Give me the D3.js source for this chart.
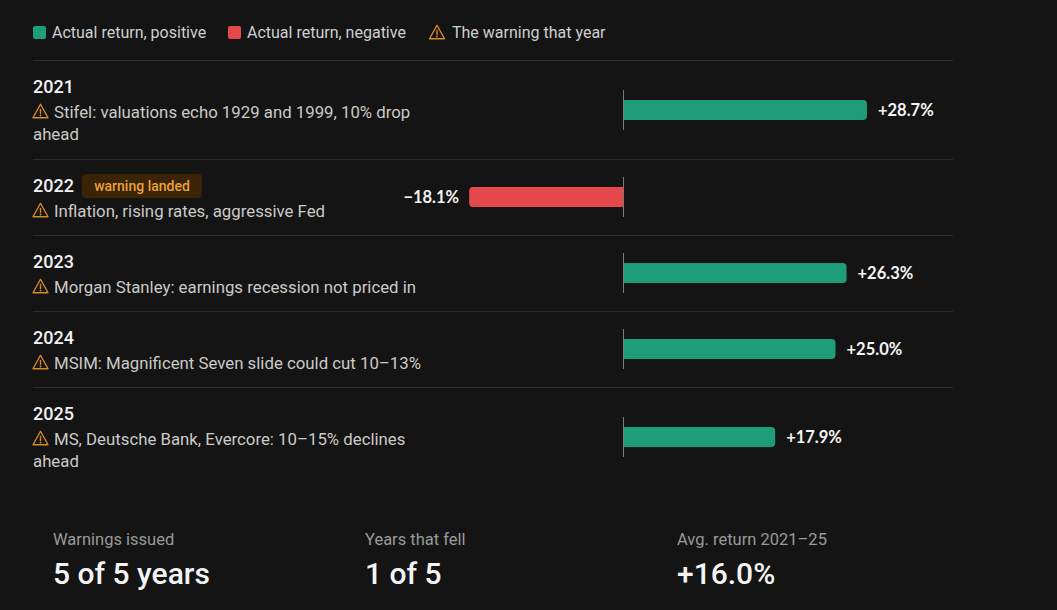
<!DOCTYPE html>
<html>
<head>
<meta charset="utf-8">
<script src="https://cdn.jsdelivr.net/npm/d3@7"></script>
<style>
  html, body { margin: 0; padding: 0; background: #141414; }
  svg { display: block; }
  text { font-family: Roboto, "Noto Sans", sans-serif; }
</style>
</head>
<body>
<div id="chart"></div>
<script>
// data
const years = ["2021", "2022", "2023", "2024", "2025"]
const returns = [28.7, -18.1, 26.3, 25.0, 17.9]
const warnings = [
  "Stifel: valuations echo 1929 and 1999, 10% drop\nahead",
  "Inflation, rising rates, aggressive Fed",
  "Morgan Stanley: earnings recession not priced in",
  "MSIM: Magnificent Seven slide could cut 10\u201313%",
  "MS, Deutsche Bank, Evercore: 10\u201315% declines\nahead"
]
const landed = [false, true, false, false, false]
const legendLabels = ["Actual return, positive", "Actual return, negative", "The warning that year"]
const statLabels = ["Warnings issued", "Years that fell", "Avg. return 2021\u201325"]
const statValues = ["5 of 5 years", "1 of 5", "+16.0%"]

const W = 1057, H = 610
const colPos = "#1e9e78", colNeg = "#e5494b", colWarn = "#d48a2c"

const svg = d3.select("#chart").append("svg")
  .attr("width", W).attr("height", H)

svg.append("rect").attr("width", W).attr("height", H).attr("fill", "#141414")

// x scale: 8.5px per percentage point, zero at 623
const x = d3.scaleLinear().domain([-20, 30]).range([453, 878])

// warning triangle icon
function warnIcon(g, cx, cy, s) {
  const h = s * 0.9
  g.append("path")
    .attr("d", `M${cx},${cy - h / 2} L${cx + s / 2},${cy + h / 2} L${cx - s / 2},${cy + h / 2} Z`)
    .attr("fill", "none").attr("stroke", colWarn).attr("stroke-width", 1.4)
    .attr("stroke-linejoin", "round")
  g.append("line")
    .attr("x1", cx).attr("x2", cx).attr("y1", cy - h * 0.12).attr("y2", cy + h * 0.2)
    .attr("stroke", colWarn).attr("stroke-width", 1.4).attr("stroke-linecap", "round")
  g.append("circle").attr("cx", cx).attr("cy", cy + h * 0.34).attr("r", 0.9).attr("fill", colWarn)
}

// legend
const legend = svg.append("g")
const legX = [33, 228]
;[colPos, colNeg].forEach((c, i) => {
  legend.append("rect").attr("x", legX[i]).attr("y", 26).attr("width", 13).attr("height", 13)
    .attr("rx", 2).attr("fill", c)
  legend.append("text").attr("x", legX[i] + 19).attr("y", 38)
    .attr("fill", "#cfcfcf").attr("font-size", 16).text(legendLabels[i])
})
warnIcon(legend, 437, 32, 15)
legend.append("text").attr("x", 452).attr("y", 38)
  .attr("fill", "#cfcfcf").attr("font-size", 16).text(legendLabels[2])

// row layout: height depends on number of warning lines
const rows = []
let rowTop = 60
years.forEach((yr, i) => {
  const lines = warnings[i].split("\n")
  const h = 53 + 23 * lines.length
  rows.push({ year: yr, value: returns[i], lines: lines, landed: landed[i], top: rowTop, h: h })
  rowTop += h
})

svg.append("g").selectAll("line")
  .data(rows)
  .join("line")
    .attr("x1", 33).attr("x2", 953)
    .attr("y1", d => d.top + 0.5).attr("y2", d => d.top + 0.5)
    .attr("stroke", "#2c2c2c")

const row = svg.append("g").selectAll("g")
  .data(rows)
  .join("g")
    .attr("transform", d => `translate(0,${d.top})`)

row.append("text")
  .attr("x", 33).attr("y", 33)
  .attr("fill", "#f2f2f2").attr("font-size", 18).attr("font-weight", 500)
  .text(d => d.year)

// badge
const badge = row.filter(d => d.landed)
badge.append("rect").attr("x", 82).attr("y", 15).attr("width", 120).attr("height", 24)
  .attr("rx", 4).attr("fill", "#3a2306")
badge.append("text").attr("x", 142).attr("y", 32).attr("text-anchor", "middle")
  .attr("fill", "#e9a23a").attr("font-size", 14).attr("font-weight", 500)
  .text("warning landed")

row.each(function(d) {
  const g = d3.select(this)
  warnIcon(g, 40.5, 51, 15)
  const t = g.append("text").attr("fill", "#cbcac7").attr("font-size", 16.8)
  d.lines.forEach((ln, j) => {
    t.append("tspan").attr("x", j === 0 ? 54 : 33).attr("y", 57.5 + 22 * j).text(ln)
  })
})

// bars: flat on zero side, rounded on the outer end
function barPath(x0, x1, cy, h, r) {
  const t = cy - h / 2, b = cy + h / 2
  if (x1 >= x0) {
    return `M${x0},${t} H${x1 - r} Q${x1},${t} ${x1},${t + r} V${b - r} Q${x1},${b} ${x1 - r},${b} H${x0} Z`
  }
  return `M${x0},${t} H${x1 + r} Q${x1},${t} ${x1},${t + r} V${b - r} Q${x1},${b} ${x1 + r},${b} H${x0} Z`
}

const mid = d => Math.round(d.h / 2)

row.append("path")
  .attr("d", d => barPath(x(0), x(d.value), mid(d), 20, 4))
  .attr("fill", d => d.value >= 0 ? colPos : colNeg)

row.append("line")
  .attr("x1", x(0) + 0.5).attr("x2", x(0) + 0.5)
  .attr("y1", d => mid(d) - 20).attr("y2", d => mid(d) + 20)
  .attr("stroke", "#7a7a7a").attr("stroke-width", 1)

const fmt = d3.format("+.1f")
row.append("text")
  .attr("x", d => d.value >= 0 ? x(d.value) + 11 : x(d.value) - 10)
  .attr("y", d => mid(d) + 6)
  .attr("text-anchor", d => d.value >= 0 ? "start" : "end")
  .attr("fill", "#f4f4f4").attr("font-size", 16.5).attr("font-weight", 700)
  .style("font-family", "Lato, Roboto, sans-serif")
  .text(d => fmt(d.value).replace("-", "\u2212") + "%")

// summary stats
const statX = d3.scaleBand().domain(statLabels).range([53, 53 + 312 * 3])
const stat = svg.append("g").selectAll("g")
  .data(statLabels)
  .join("g")
    .attr("transform", d => `translate(${statX(d)},0)`)

stat.append("text").attr("y", 545).attr("fill", "#9a9a9a").attr("font-size", 16.5)
  .text(d => d)
stat.append("text").attr("y", 584).attr("fill", "#f4f4f4").attr("font-size", 30).attr("font-weight", 500)
  .text((d, i) => statValues[i])
</script>
</body>
</html>
